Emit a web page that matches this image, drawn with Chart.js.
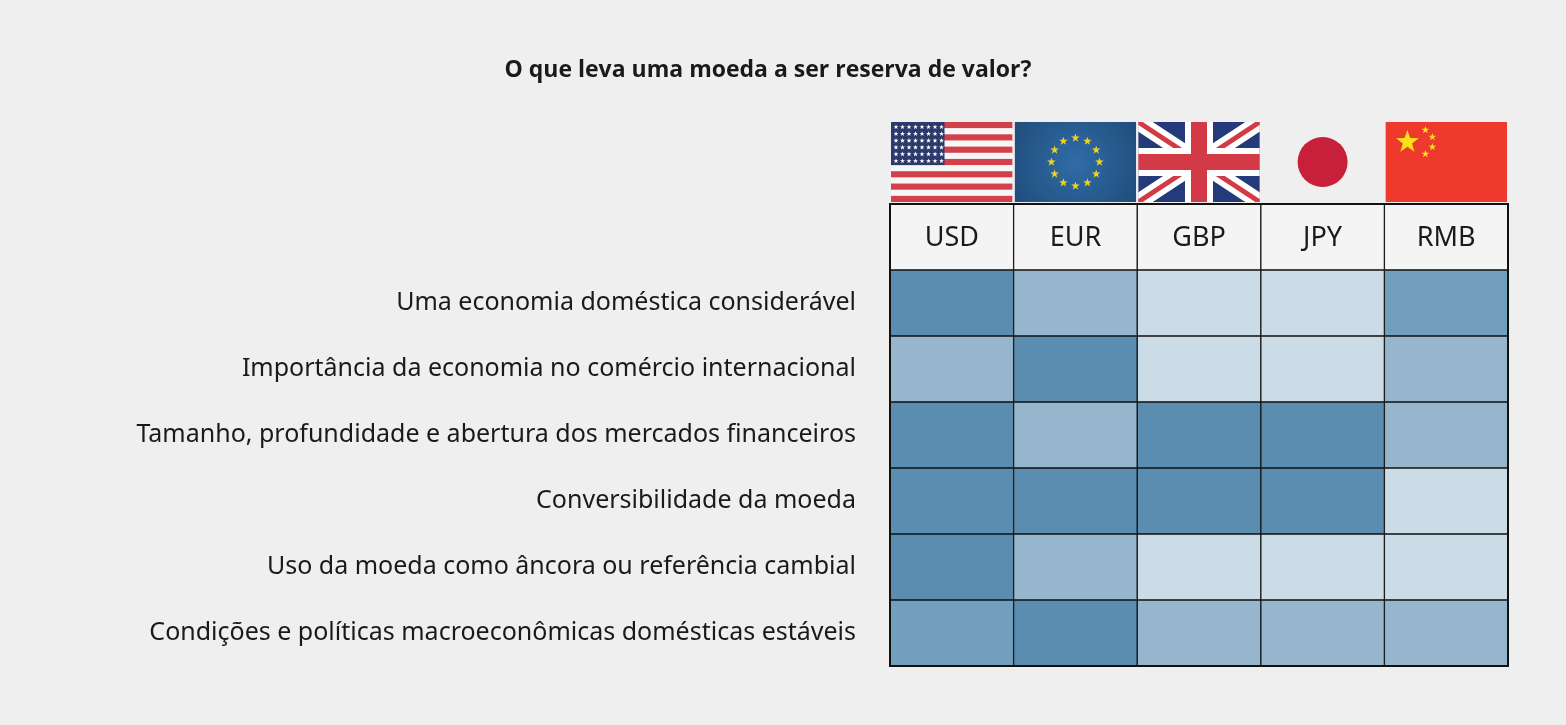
<!DOCTYPE html>
<html><head><meta charset="utf-8">
<script src="https://cdn.jsdelivr.net/npm/chart.js@4"></script>
<style>html,body{margin:0;padding:0;background:#efeff0;}#wrap{width:1566px;height:725px;}</style>
</head><body><div id="wrap"><canvas id="c" width="1566" height="725"></canvas></div>
<script>
const title = 'O que leva uma moeda a ser reserva de valor?';
const currencies = ['USD','EUR','GBP','JPY','RMB'];
const criteria = [
  'Uma economia doméstica considerável',
  'Importância da economia no comércio internacional',
  'Tamanho, profundidade e abertura dos mercados financeiros',
  'Conversibilidade da moeda',
  'Uso da moeda como âncora ou referência cambial',
  'Condições e políticas macroeconômicas domésticas estáveis'
];
// importance levels per criterion (rows) x currency (columns)
const USD = [3, 2, 3, 3, 3, 2.5];
const EUR = [2, 3, 2, 3, 2, 3];
const GBP = [1, 1, 3, 3, 1, 2];
const JPY = [1, 1, 3, 3, 1, 2];
const RMB = [2.5, 2, 2, 1, 1, 2];
const seriesVals = [USD, EUR, GBP, JPY, RMB];

function levelColor(v){
  if (v >= 3) return '#5b8db0';
  if (v >= 2.5) return '#729fbd';
  if (v >= 2) return '#95b6cc';
  return '#cbdce7';
}
const rows = [''].concat(criteria);
const datasets = currencies.map((cur, j) => ({
  label: cur,
  data: rows.map((r, i) => [j, j + 1]),
  backgroundColor: rows.map((r, i) => i === 0 ? '#f4f4f4' : levelColor(seriesVals[j][i - 1])),
  borderColor: '#111',
  borderWidth: 1,
  borderSkipped: false,
  barPercentage: 1,
  categoryPercentage: 1,
  grouped: false
}));

function star(ctx, cx, cy, r, color){
  ctx.save(); ctx.fillStyle = color; ctx.beginPath();
  for (let k = 0; k < 10; k++){
    const a = -Math.PI/2 + k*Math.PI/5, rr = k % 2 ? r*0.4 : r;
    ctx.lineTo(cx + rr*Math.cos(a), cy + rr*Math.sin(a));
  }
  ctx.closePath(); ctx.fill(); ctx.restore();
}

const deco = {
  id: 'deco',
  afterDraw(chart){
    const ctx = chart.ctx, x = chart.scales.x, y = chart.scales.y, a = chart.chartArea;
    ctx.save();
    // title
    ctx.fillStyle = '#1a1a1a'; ctx.font = 'bold 23px "Open Sans", "Noto Sans", sans-serif';
    ctx.textAlign = 'center'; ctx.textBaseline = 'middle';
    ctx.fillText(title, 768, 70);
    // header labels
    ctx.font = '27px "Noto Sans", sans-serif'; ctx.fillStyle = '#1a1a1a';
    const hy = y.getPixelForValue(0);
    currencies.forEach((c, j) => ctx.fillText(c, x.getPixelForValue(j + 0.5), hy + 1));
    // outer border
    ctx.strokeStyle = '#111'; ctx.lineWidth = 2;
    ctx.strokeRect(a.left, a.top, a.right - a.left, a.bottom - a.top);
    // flags
    const ft = 122, fh = 80;
    currencies.forEach((c, j) => {
      const l = x.getPixelForValue(j) + 1, w = x.getPixelForValue(j + 1) - x.getPixelForValue(j) - 2;
      ctx.save(); ctx.beginPath(); ctx.rect(l, ft, w, fh); ctx.clip();
      if (c === 'USD') {
        for (let s = 0; s < 13; s++){ ctx.fillStyle = s % 2 ? '#f6f6f6' : '#d2404a'; ctx.fillRect(l, ft + s*fh/13, w, fh/13 + 0.5); }
        ctx.fillStyle = '#2b3a6b'; ctx.fillRect(l, ft, w*0.44, fh*7/13);
        for (let r = 0; r < 6; r++) for (let k = 0; k < 8; k++) star(ctx, l + 5 + k*6.5, ft + 5 + r*6.8, 2.6, '#fff');
      } else if (c === 'EUR') {
        const g = ctx.createRadialGradient(l + w/2, ft + fh/2, 5, l + w/2, ft + fh/2, w*0.7);
        g.addColorStop(0, '#2f6aa5'); g.addColorStop(1, '#1d4772');
        ctx.fillStyle = g; ctx.fillRect(l, ft, w, fh);
        for (let k = 0; k < 12; k++){ const an = k*Math.PI/6; star(ctx, l + w/2 + 24*Math.cos(an), ft + fh/2 + 24*Math.sin(an), 4.5, '#f3d21a'); }
      } else if (c === 'GBP') {
        ctx.fillStyle = '#253a7a'; ctx.fillRect(l, ft, w, fh);
        ctx.lineCap = 'butt';
        ctx.strokeStyle = '#fff'; ctx.lineWidth = 16;
        ctx.beginPath(); ctx.moveTo(l, ft); ctx.lineTo(l + w, ft + fh); ctx.moveTo(l + w, ft); ctx.lineTo(l, ft + fh); ctx.stroke();
        ctx.strokeStyle = '#d33a45'; ctx.lineWidth = 5;
        ctx.beginPath(); ctx.moveTo(l, ft); ctx.lineTo(l + w, ft + fh); ctx.moveTo(l + w, ft); ctx.lineTo(l, ft + fh); ctx.stroke();
        ctx.fillStyle = '#fff'; ctx.fillRect(l + w/2 - 14, ft, 28, fh); ctx.fillRect(l, ft + fh/2 - 14, w, 28);
        ctx.fillStyle = '#d33a45'; ctx.fillRect(l + w/2 - 8, ft, 16, fh); ctx.fillRect(l, ft + fh/2 - 8, w, 16);
      } else if (c === 'JPY') {
        ctx.fillStyle = '#c81f3a'; ctx.beginPath(); ctx.ellipse(l + w/2, ft + fh/2, 25, 25, 0, 0, 2*Math.PI); ctx.fill();
      } else {
        ctx.fillStyle = '#ee3a2c'; ctx.fillRect(l, ft, w, fh);
        star(ctx, l + 22, ft + 20, 12, '#f8e21c');
        [[l+40,ft+8],[l+47,ft+15],[l+47,ft+25],[l+40,ft+32]].forEach(p => star(ctx, p[0], p[1], 4, '#f8e21c'));
      }
      ctx.restore();
    });
    ctx.restore();
  }
};

new Chart(document.getElementById('c'), {
  type: 'bar',
  data: { labels: rows, datasets },
  options: {
    indexAxis: 'y',
    responsive: false,
    animation: false,
    layout: { padding: { left: 0, right: 58, top: 204, bottom: 59 } },
    plugins: { legend: { display: false }, tooltip: { enabled: false } },
    scales: {
      x: { min: 0, max: 5, display: false },
      y: {
        grid: { display: false }, border: { display: false },
        afterFit(s){ s.width = 890; },
        ticks: { padding: 26, color: '#1a1a1a', font: { size: 25, family: '"Noto Sans", sans-serif' } }
      }
    }
  },
  plugins: [deco]
});
</script></body></html>
